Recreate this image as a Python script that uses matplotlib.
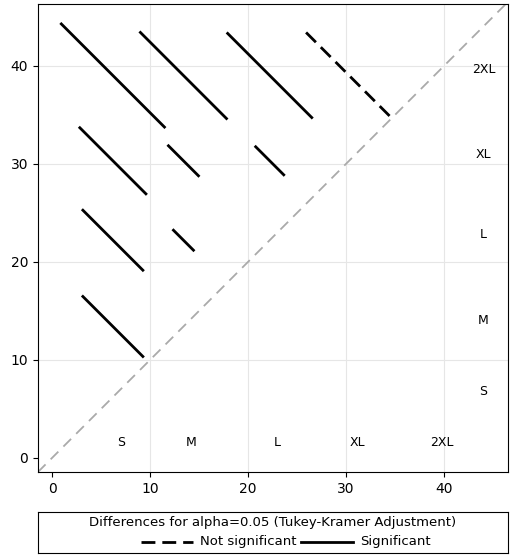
import matplotlib
matplotlib.use("Agg")
import matplotlib.pyplot as plt

groups = ["S", "M", "L", "XL", "2XL"]
means = [6.2, 13.4, 22.2, 30.3, 39.0]
pairs = [(0,1),(0,2),(0,3),(0,4),(1,2),(1,3),(1,4),(2,3),(2,4),(3,4)]
half_widths = [3.06, 3.06, 3.37, 5.26, 1.02, 1.53, 4.39, 1.43, 4.29, 4.39]
significant = [True, True, True, True, True, True, True, True, True, False]

fig = plt.figure(figsize=(5.12, 5.6), dpi=100)
ax = fig.add_axes([0.074, 0.157, 0.918, 0.836])
lo, hi = -1.45, 46.5
ax.set_xlim(lo, hi); ax.set_ylim(lo, 46.3)
for v in [10, 20, 30, 40]:
    ax.axhline(v, color="#e6e6e6", lw=0.8, zorder=0)
    ax.axvline(v, color="#e6e6e6", lw=0.8, zorder=0)
ax.plot([lo, hi], [lo, hi], color="#aaaaaa", ls=(0, (6, 4)), lw=1.3, zorder=1)
for (i, j), h, s in zip(pairs, half_widths, significant):
    cx, cy = means[i], means[j]
    ax.plot([cx - h, cx + h], [cy + h, cy - h], color="black", lw=2,
            ls="-" if s else (0, (5, 2.5)), zorder=2)
for g, m in zip(groups, means):
    ax.text(m + 0.8, 1.6, g, ha="center", va="center", fontsize=9)
    ax.text(44.0, m + 0.6, g, ha="center", va="center", fontsize=9)
ax.set_xticks([0, 10, 20, 30, 40]); ax.set_yticks([0, 10, 20, 30, 40])
ax.tick_params(labelsize=10)

lax = fig.add_axes([0.074, 0.013, 0.918, 0.073])
lax.set_xticks([]); lax.set_yticks([])
lax.set_xlim(0, 1); lax.set_ylim(0, 1)
lax.text(0.5, 0.75, "Differences for alpha=0.05 (Tukey-Kramer Adjustment)", ha="center", va="center", fontsize=9.5)
lax.plot([0.22, 0.33], [0.27, 0.27], color="black", lw=2, ls=(0, (5, 2.5)))
lax.text(0.345, 0.27, "Not significant", va="center", fontsize=9.5)
lax.plot([0.56, 0.67], [0.27, 0.27], color="black", lw=2)
lax.text(0.685, 0.27, "Significant", va="center", fontsize=9.5)
fig.savefig("out.png", dpi=100)
